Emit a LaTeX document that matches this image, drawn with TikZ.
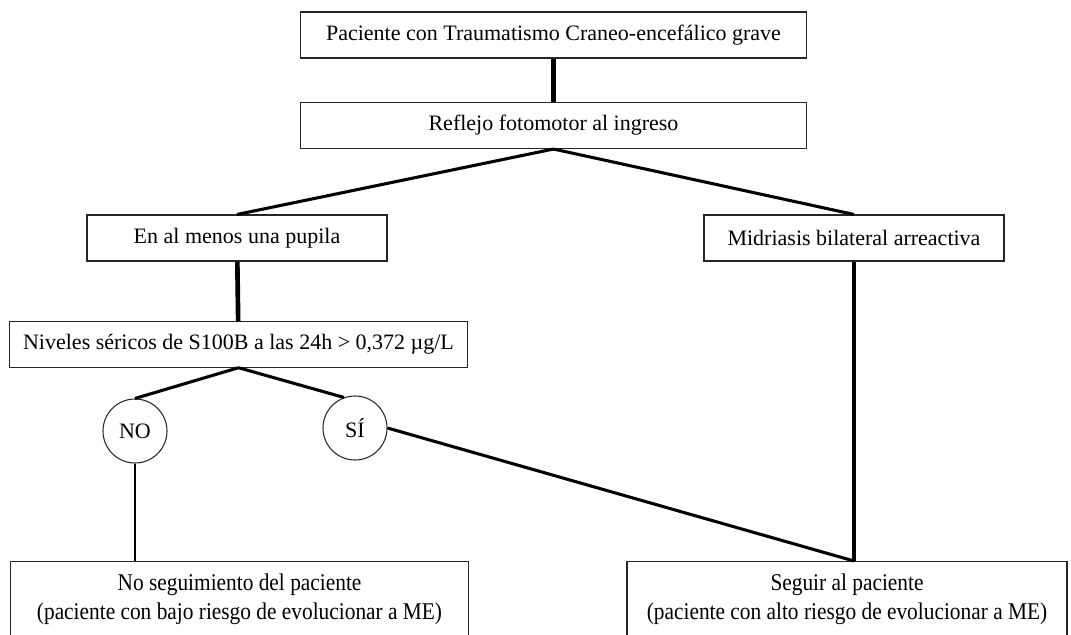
\documentclass[tikz,border=0pt]{standalone}
\usepackage{fontspec}
\setmainfont{Liberation Serif}
\newfontfamily\narrowserif[FakeStretch=0.89]{Liberation Serif}
\usetikzlibrary{calc}

\begin{document}
\begin{tikzpicture}[
    x=0.75pt, y=-0.75pt,
    every node/.style={draw=black!85, line width=0.8pt, align=center, inner sep=0pt, font=\fontsize{16.5}{20}\selectfont},
    widebox/.style={rectangle, minimum width=380pt, minimum height=34.5pt},
    midbox/.style={rectangle, minimum width=225pt, minimum height=34.5pt},
    answer/.style={circle, minimum size=48pt},
    outcome/.style={rectangle, anchor=north, text height=43.5pt, text depth=45pt, font=\narrowserif\fontsize{18}{21.75}\selectfont},
    link/.style={line width=2.3pt},
    heavylink/.style={line width=3.5pt},
    thinlink/.style={line width=1.1pt}
]
\clip (0,0) rectangle (1071,635);

\node (tce_patient) [widebox] at (553.5,35) {Paciente con Traumatismo Craneo-encefálico grave};
\node (light_reflex) [widebox] at (553.5,125.5) {Reflejo fotomotor al ingreso};
\node (one_pupil) [midbox] at (237,238) {En al menos una pupila};
\node (bilateral_mydriasis) [midbox] at (854,238) {Midriasis bilateral arreactiva};
\node (s100b_levels) [rectangle, minimum width=343pt, minimum height=34pt] at (238.5,344.5) {Niveles séricos de S100B a las 24h > 0,372 µg/L};
\node (answer_no) [answer] at (135,431) {NO};
\node (answer_yes) [answer] at (355,428) {SÍ};
\node (no_follow_up) [outcome, minimum width=344pt] at (239.5,561) {No seguimiento del paciente\\(paciente con bajo riesgo de evolucionar a ME)};
\node (follow_up) [outcome, minimum width=330pt] at (847,561) {Seguir al paciente\\(paciente con alto riesgo de evolucionar a ME)};
\coordinate (follow_up_top) at (bilateral_mydriasis.south |- follow_up.north);

\draw[heavylink] (tce_patient) -- (light_reflex);
\draw[link] (light_reflex.south) -- (one_pupil.north);
\draw[link] (light_reflex.south) -- (bilateral_mydriasis.north);
\draw[heavylink] (one_pupil) -- (s100b_levels);
\draw[link] (s100b_levels.south) -- (answer_no.north);
\draw[link] (s100b_levels.south) -- (answer_yes.110);
\draw[thinlink] (answer_no.south) -- (answer_no.south |- no_follow_up.north);
\draw[link] (answer_yes.east) -- (follow_up_top);
\draw[heavylink] (bilateral_mydriasis.south) -- (follow_up_top);
\end{tikzpicture}
\end{document}
